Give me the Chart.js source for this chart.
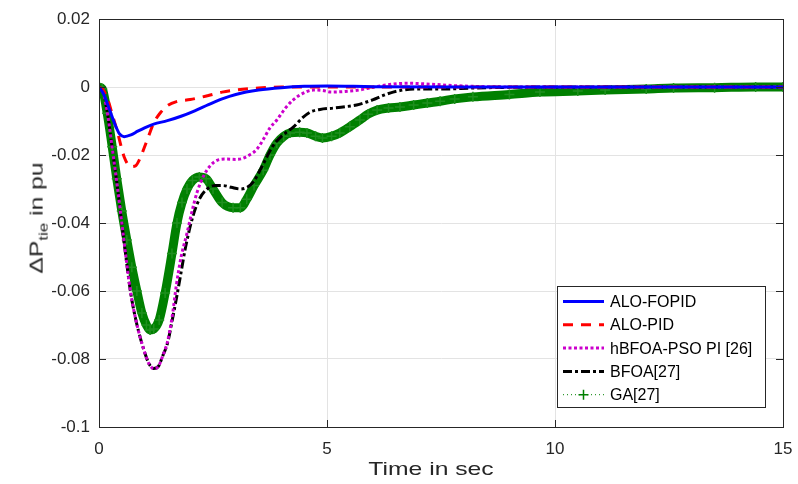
<!DOCTYPE html>
<html>
<head>
<meta charset="utf-8">
<script src="https://cdn.jsdelivr.net/npm/chart.js@4.4.1/dist/chart.umd.min.js"></script>
<style>
  body { margin: 0; background: #fff; }
  #wrap { position: relative; width: 798px; height: 484px; }
  .axlabel {
    position: absolute;
    font: 19px "Liberation Sans", Arial, sans-serif; color: #262626;
    white-space: nowrap;
  }
  #ylabel { left: 38px; top: 218px; transform: translate(-50%, -50%) rotate(-90deg) scaleX(1.3); }
  #xlabel { left: 431px; top: 469px; transform: translate(-50%, -50%) scaleX(1.3); }
  #ylabel sub { font-size: 13px; }
</style>
</head>
<body>
<div id="wrap">
  <canvas id="c"></canvas>
  <div id="ylabel" class="axlabel">&Delta;P<sub>tie</sub> in pu</div>
  <div id="xlabel" class="axlabel">Time in sec</div>
</div>
<script>
// Tick values and labels
const xTickVals = [0, 5, 10, 15];
const yTickVals = [-0.1, -0.08, -0.06, -0.04, -0.02, 0, 0.02];
const yTickLabels = ["-0.1", "-0.08", "-0.06", "-0.04", "-0.02", "0", "0.02"];

// ALO-FOPID
const fopidT = [0, 0.1, 0.2, 0.35, 0.45, 0.55, 0.7, 0.85, 1.0, 1.2, 1.5, 1.8, 2.1, 2.4, 2.7, 3.0, 3.5, 4.0, 4.5, 5.0, 6.0, 8.0, 10, 15];
const fopidY = [0, -0.002, -0.0055, -0.011, -0.0138, -0.0146, -0.0141, -0.013, -0.012, -0.0109, -0.0099, -0.0086, -0.007, -0.0052, -0.0035, -0.0022, -0.0009, -0.0002, 0.0002, 0.0003, 0.0001, 0, 0, 0];

// ALO-PID
const pidT = [0, 0.1, 0.2, 0.3, 0.4, 0.55, 0.7, 0.8, 0.9, 1.0, 1.1, 1.2, 1.35, 1.5, 1.7, 2.0, 2.4, 2.7, 3.0, 3.5, 4.0, 5.0, 10, 15];
const pidY = [0, -0.001, -0.004, -0.0085, -0.013, -0.0205, -0.0234, -0.0232, -0.021, -0.0176, -0.014, -0.0106, -0.0075, -0.0055, -0.0043, -0.0037, -0.0025, -0.0015, -0.0009, -0.0003, 0, 0, 0, 0];

// hBFOA-PSO PI [26]
const hybridT = [0, 0.1, 0.2, 0.3, 0.4, 0.5, 0.6, 0.7, 0.8, 0.9, 1.0, 1.1, 1.2, 1.3, 1.4, 1.5, 1.6, 1.7, 1.8, 1.93, 2.05, 2.15, 2.3, 2.45, 2.6, 2.8, 3.0, 3.15, 3.3, 3.45, 3.6, 3.75, 3.9, 4.1, 4.26, 4.45, 4.7, 4.9, 5.1, 5.4, 5.7, 6.0, 6.3, 6.75, 7.3, 7.8, 8.5, 9.5, 15];
const hybridY = [0, -0.002, -0.009, -0.019, -0.029, -0.040, -0.051, -0.061, -0.068, -0.0735, -0.078, -0.0815, -0.0828, -0.0822, -0.079, -0.075, -0.068, -0.058, -0.050, -0.043, -0.036, -0.031, -0.026, -0.023, -0.0215, -0.0212, -0.0213, -0.021, -0.020, -0.0185, -0.0155, -0.012, -0.0097, -0.006, -0.0038, -0.002, -0.0009, -0.001, -0.0015, -0.0013, -0.0009, -0.0001, 0.0006, 0.0011, 0.0008, 0.0004, 0.0001, 0, 0];

// BFOA[27]
const bfoaT = [0, 0.1, 0.2, 0.3, 0.4, 0.5, 0.6, 0.7, 0.8, 0.9, 1.0, 1.1, 1.2, 1.3, 1.4, 1.5, 1.6, 1.7, 1.78, 1.9, 2.06, 2.2, 2.37, 2.55, 2.72, 2.9, 3.1, 3.25, 3.38, 3.55, 3.8, 4.0, 4.26, 4.45, 4.63, 4.85, 5.14, 5.4, 5.65, 5.85, 6.0, 6.25, 6.45, 6.9, 7.5, 8.2, 9, 10, 15];
const bfoaY = [0, -0.002, -0.009, -0.019, -0.029, -0.040, -0.051, -0.061, -0.068, -0.0735, -0.078, -0.0815, -0.0828, -0.0822, -0.079, -0.0755, -0.069, -0.062, -0.056, -0.047, -0.038, -0.033, -0.030, -0.029, -0.029, -0.0295, -0.030, -0.0295, -0.028, -0.024, -0.0176, -0.0145, -0.0118, -0.0092, -0.0074, -0.0066, -0.0062, -0.0058, -0.0053, -0.0045, -0.0038, -0.0024, -0.0015, -0.0006, -0.0006, -0.0003, -0.0001, 0, 0];

// GA[27]
const gaT = [0, 0.07, 0.18, 0.29, 0.39, 0.5, 0.61, 0.72, 0.83, 0.94, 1.04, 1.12, 1.2, 1.32, 1.45, 1.6, 1.71, 1.82, 1.93, 2.05, 2.2, 2.35, 2.5, 2.7, 2.94, 3.1, 3.24, 3.4, 3.6, 3.75, 3.9, 4.05, 4.19, 4.4, 4.56, 4.75, 4.9, 5.1, 5.28, 5.5, 5.72, 5.9, 6.1, 6.35, 6.6, 6.9, 7.2, 7.48, 7.8, 8.2, 9.0, 9.67, 10.5, 11.1, 12, 12.6, 13.5, 14.4, 15];
const gaY = [0, -0.0005, -0.0077, -0.0176, -0.027, -0.0365, -0.045, -0.053, -0.060, -0.0665, -0.070, -0.0715, -0.0712, -0.0685, -0.0606, -0.049, -0.040, -0.034, -0.030, -0.0275, -0.0265, -0.027, -0.030, -0.034, -0.0355, -0.0355, -0.033, -0.029, -0.0245, -0.020, -0.0165, -0.0145, -0.0135, -0.0133, -0.0135, -0.0145, -0.015, -0.0145, -0.0135, -0.0117, -0.0097, -0.008, -0.0068, -0.0062, -0.0059, -0.0053, -0.0047, -0.0042, -0.0035, -0.0029, -0.0022, -0.0015, -0.0012, -0.0009, -0.0006, -0.0003, -0.0002, 0, 0];

const pts = (t, y) => t.map((v, i) => ({ x: v, y: y[i] }));

const AXIS = "#262626";
const FONT = "'Liberation Sans', Arial, sans-serif";

// legend samples (MATLAB style, bottom right inside the axes)
const legendStyles = [
  { dash: [], width: 3 },
  { dash: [10, 8], width: 3 },
  { dash: [3, 2.5], width: 3 },
  { dash: [9, 3, 3, 3], width: 3 },
  { dash: [1, 3], width: 1, cross: true }
];

const boxPlugin = {
  id: "boxPlugin",
  afterDraw(chart) {
    const { ctx, chartArea: a, scales } = chart;
    ctx.save();
    // inward ticks on all four sides
    ctx.strokeStyle = AXIS;
    ctx.lineWidth = 1;
    ctx.beginPath();
    xTickVals.forEach(v => {
      const px = Math.round(scales.x.getPixelForValue(v)) + 0.5;
      ctx.moveTo(px, a.bottom); ctx.lineTo(px, a.bottom - 7);
      ctx.moveTo(px, a.top); ctx.lineTo(px, a.top + 7);
    });
    yTickVals.forEach(v => {
      const py = Math.round(scales.y.getPixelForValue(v)) + 0.5;
      ctx.moveTo(a.left, py); ctx.lineTo(a.left + 7, py);
      ctx.moveTo(a.right, py); ctx.lineTo(a.right - 7, py);
    });
    ctx.stroke();
    // axes box
    ctx.strokeRect(Math.round(a.left) + 0.5, Math.round(a.top) + 0.5,
      Math.round(a.right - a.left), Math.round(a.bottom - a.top));

    // legend
    const bx = a.right - 226, by = a.bottom - 141, bw = 208, bh = 121;
    ctx.fillStyle = "#fff";
    ctx.fillRect(bx, by, bw, bh);
    ctx.strokeStyle = AXIS;
    ctx.setLineDash([]);
    ctx.strokeRect(bx + 0.5, by + 0.5, bw, bh);
    ctx.font = "16px " + FONT;
    ctx.textBaseline = "middle";
    chart.data.datasets.forEach((ds, i) => {
      const st = legendStyles[i];
      const y = by + 15.5 + i * 23.3;
      const x1 = bx + 6, x2 = bx + 47;
      ctx.strokeStyle = ds.borderColor;
      ctx.lineWidth = st.width;
      ctx.setLineDash(st.dash);
      ctx.beginPath();
      ctx.moveTo(x1, y); ctx.lineTo(x2, y);
      ctx.stroke();
      ctx.setLineDash([]);
      if (st.cross) {
        const cx = (x1 + x2) / 2;
        ctx.lineWidth = 1.5;
        ctx.beginPath();
        ctx.moveTo(cx - 5, y); ctx.lineTo(cx + 5, y);
        ctx.moveTo(cx, y - 5); ctx.lineTo(cx, y + 5);
        ctx.stroke();
      }
      ctx.fillStyle = "#000";
      ctx.fillText(ds.label, bx + 53, y + 1);
    });
    ctx.restore();
  }
};

new Chart(document.getElementById("c"), {
  type: "line",
  data: {
    datasets: [
      {
        label: "ALO-FOPID", data: pts(fopidT, fopidY),
        borderColor: "#0000ff", borderWidth: 3, pointRadius: 0, order: 1
      },
      {
        label: "ALO-PID", data: pts(pidT, pidY),
        borderColor: "#ff0000", borderWidth: 3, borderDash: [10, 8], pointRadius: 0, order: 2
      },
      {
        label: "hBFOA-PSO PI [26]", data: pts(hybridT, hybridY),
        borderColor: "#cc00cc", borderWidth: 3, borderDash: [3, 2.5], pointRadius: 0, order: 3
      },
      {
        label: "BFOA[27]", data: pts(bfoaT, bfoaY),
        borderColor: "#000000", borderWidth: 3, borderDash: [9, 3, 3, 3], pointRadius: 0, order: 4
      },
      {
        label: "GA[27]", data: pts(gaT, gaY),
        borderColor: "#008000", backgroundColor: "#008000", borderWidth: 9,
        pointStyle: "cross", pointRadius: 5, pointBorderWidth: 1.5,
        pointBorderColor: "#1f8f1f", order: 5
      }
    ]
  },
  options: {
    responsive: true,
    maintainAspectRatio: false,
    animation: false,
    events: [],
    layout: { padding: { top: 19, right: 15, left: 0, bottom: 0 } },
    elements: { line: { cubicInterpolationMode: "monotone" } },
    plugins: {
      legend: { display: false },
      tooltip: { enabled: false }
    },
    scales: {
      x: {
        type: "linear", min: 0, max: 15,
        afterBuildTicks: s => { s.ticks = xTickVals.map(v => ({ value: v })); },
        afterFit: s => { s.height = 57; s.paddingLeft = 0; s.paddingRight = 0; },
        grid: { color: "#e3e3e3", drawTicks: false },
        border: { display: true, color: AXIS },
        ticks: { color: AXIS, padding: 12, font: { family: FONT, size: 17 } }
      },
      y: {
        type: "linear", min: -0.1, max: 0.02,
        afterBuildTicks: s => { s.ticks = yTickVals.map(v => ({ value: v })); },
        afterFit: s => { s.width = 99; s.paddingTop = 0; s.paddingBottom = 0; },
        grid: { color: "#e3e3e3", drawTicks: false },
        border: { display: true, color: AXIS },
        ticks: {
          color: AXIS, padding: 9, font: { family: FONT, size: 17 },
          callback: v => yTickLabels[yTickVals.findIndex(t => Math.abs(t - v) < 1e-9)]
        }
      }
    }
  },
  plugins: [boxPlugin]
});
</script>
</body>
</html>
